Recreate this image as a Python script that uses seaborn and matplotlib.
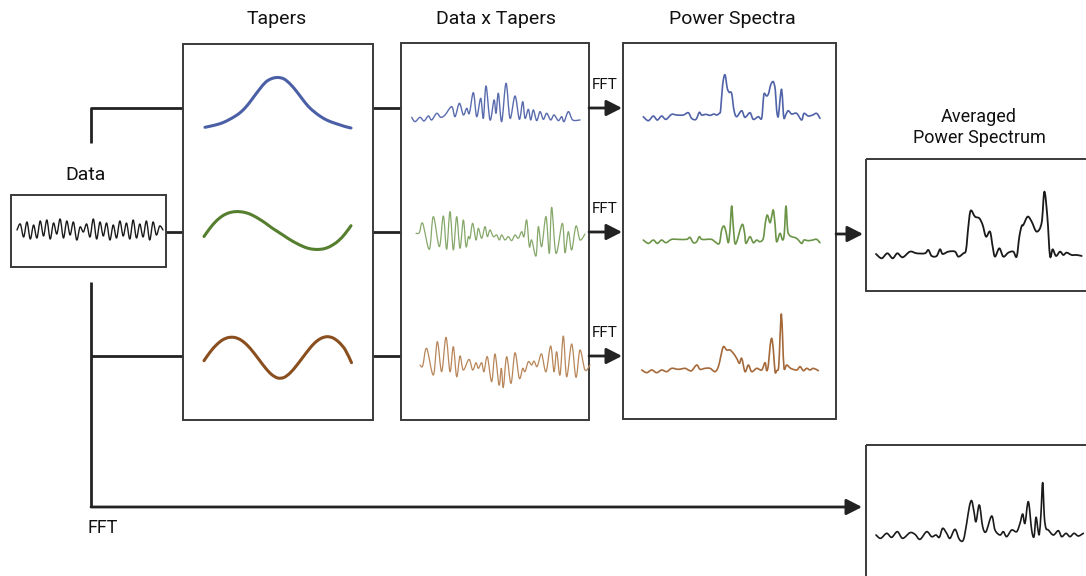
import numpy as np
import matplotlib
matplotlib.use("Agg")
import matplotlib.pyplot as plt
from matplotlib.patches import Rectangle, PathPatch
from matplotlib.path import Path
import seaborn as sns

sns.set_theme(style="white")
plt.rcParams["font.family"] = ["Roboto", "DejaVu Sans"]

# ---------------------------------------------------------------- data
# raw recording (successive peaks / troughs)
data_sig = [0, 6, -7, 8, -9, 5, -8, 9, -6, 10, -9, 7, -4, 11, -8, 9, -5, 8, -10, 3,
            -2, 6, -7, 11, -9, 8, -6, 7, -10, 5, -8, 9, -6, 7, -9, 10, -8, 6, -7, 9,
            -10, 8, -5, 4, 0]

# Slepian-like tapers
taper_1 = [0.7, 2, 3.5, 5.5, 8.5, 12, 16.5, 23, 31, 39, 46, 49.5, 50.5, 49, 44, 37,
           29, 21.5, 16, 11.5, 8, 5.5, 3.5, 1.5, 0]
taper_2 = [-5.5, 3, 10, 15, 18, 19.3, 19.2, 18, 15.5, 12, 8, 3.5, -0.5, -4.5, -8.5,
           -12, -15, -17.3, -18.3, -18.3, -17, -14, -9.5, -3, 5.3]
taper_3 = [-3.2, 5.5, 12.5, 17.5, 20, 20, 17.5, 12.5, 5.5, -2.5, -10.5, -17, -20.5,
           -20, -15.5, -8.5, -0.5, 7.5, 14.5, 19, 20.8, 19.5, 15, 7.5, -5.2]

# data multiplied by each taper
dxt1_t = [35, 45, 60, 72, 85, 95, 110, 122, 135, 155, 165, 178, 190, 200, 208, 220,
          230, 242, 250, 258, 270, 282, 288, 295, 305, 318, 330, 345, 358, 368, 375,
          385, 392, 400, 410, 420, 430, 440, 452, 462, 475, 485, 492, 505, 518, 540]
dxt1_v = [3, -10, 3, -8, 7, -5, 15, 3, 10, 35, 5, 45, 10, 30, 15, 77, 5, 60, 0, 97,
          -5, 55, 15, 75, -10, 105, 0, 67, -3, 50, 0, 27, -5, 25, -7, 20, -3, 15, -5,
          10, -7, 5, -10, 20, -5, -5]

dxt2_t = [48, 58, 68, 88, 100, 118, 130, 140, 150, 160, 170, 180, 190, 198, 205, 210,
          218, 228, 235, 245, 255, 262, 270, 280, 290, 298, 305, 315, 325, 335, 345,
          355, 365, 372, 380, 388, 395, 408, 415, 425, 438, 448, 455, 468, 487, 495,
          505, 515, 528, 540, 555]
dxt2_v = [0, 2, 30, -48, 50, -40, 52, -48, 65, -50, 50, -45, 40, -40, -10, -15, 30,
          -20, 15, -15, 20, -10, 10, -10, -5, -20, -5, -20, -10, -22, -5, -15, 5, -10,
          40, -40, -20, -68, 20, -40, 50, -60, 78, -60, 30, -58, 5, -50, 22, -20, -2]

dxt3_t = [60, 68, 80, 100, 112, 125, 138, 150, 160, 170, 180, 190, 207, 218, 228, 235,
          245, 252, 262, 275, 285, 297, 304, 310, 320, 333, 345, 358, 368, 375, 385,
          395, 402, 410, 415, 425, 438, 452, 462, 470, 480, 490, 500, 515, 528, 540,
          555, 570]
dxt3_v = [-10, -13, 40, -40, 60, -30, 73, -30, 45, -45, 17, -25, 7, -25, -3, -20, -3,
          -30, 15, -60, 23, -70, -20, -77, 15, -65, 27, -50, -20, -30, 0, -10, 2, -15,
          -5, 23, -30, 47, -30, 30, -40, 77, -45, 53, -47, 35, -25, -10]

# power spectra of each tapered series
ps1_f = [70, 85, 100, 112, 125, 138, 155, 170, 190, 205, 215, 228, 238, 245, 258, 270,
         282, 290, 298, 302, 308, 315, 322, 328, 335, 342, 350, 365, 375, 390, 400,
         415, 425, 430, 433, 440, 446, 452, 460, 466, 470, 475, 480, 485, 489, 492,
         498, 505, 515, 530, 545, 552, 565, 578, 590, 600]
ps1_p = [0, -12, 2, -10, 2, -8, 7, 5, 5, 12, -5, -8, 13, 5, 7, 4, 8, 5, 10, 20, 95,
         126, 85, 73, 70, 20, 0, 18, -2, 12, -8, 0, -5, 50, 70, 62, 70, 95, 105, 80,
         20, 0, 50, 82, 30, -5, 7, 18, 8, 10, -10, 10, 2, 5, 10, -5]

ps2_f = [70, 85, 100, 112, 125, 138, 155, 175, 200, 210, 220, 230, 238, 245, 260, 275,
         285, 298, 305, 312, 318, 325, 330, 335, 340, 345, 352, 360, 368, 374, 378,
         390, 400, 410, 420, 430, 436, 442, 450, 455, 460, 465, 470, 480, 488, 493,
         498, 503, 508, 515, 530, 545, 552, 565, 578, 590, 600]
ps2_p = [2, -8, 2, -8, 2, -6, 4, 4, 4, 10, -6, -3, 12, 4, 4, 4, -3, -8, 32, 44, 27,
         -6, 32, 104, 42, -8, 2, 32, 49, 22, -8, 12, -6, 2, -3, 7, 52, 77, 54, 72, 92,
         52, -3, 22, 2, 22, 104, 32, 17, 12, 7, -8, 2, 0, 2, 4, -6]

ps3_f = [65, 80, 95, 110, 125, 140, 155, 175, 195, 205, 215, 230, 240, 255, 270, 285,
         295, 302, 310, 320, 330, 340, 350, 358, 365, 375, 385, 395, 410, 425, 435,
         440, 445, 450, 455, 460, 465, 470, 476, 480, 484, 488, 492, 500, 512, 530,
         540, 550, 560, 570, 580, 595]
ps3_p = [0, -8, 0, -8, 0, -5, 5, 2, 5, 0, -2, 15, 2, 5, 5, -5, 10, 40, 70, 60, 60, 50,
         35, 20, 35, -5, 15, -5, 5, 0, 22, -2, 15, 70, 95, 60, -5, -2, 10, 100, 168,
         90, 5, 15, 5, 0, 10, -2, 5, 0, 5, -2]

# multitaper average
avg_f = [48, 65, 82, 98, 112, 128, 150, 170, 195, 205, 215, 230, 240, 248, 265, 285,
         295, 310, 318, 325, 332, 345, 358, 368, 378, 390, 398, 405, 418, 430, 445,
         460, 470, 478, 485, 490, 503, 515, 530, 545, 553, 562, 570, 578, 588, 600,
         610, 620, 635, 650, 665]
avg_p = [-2, -15, 0, -15, 0, -12, 5, 0, 0, 10, -8, -8, 12, -2, 5, 5, -10, 0, 10, 80,
         128, 110, 105, 85, 50, 65, 20, -10, 15, -10, 2, 5, -10, 50, 82, 85, 110, 95,
         65, 92, 185, 110, -8, 12, -8, 5, -5, 2, -5, -5, -8]

# single-taper (plain FFT) spectrum
fft_f = [48, 62, 80, 95, 112, 128, 150, 165, 180, 200, 215, 228, 238, 248, 260, 270,
         285, 298, 310, 320, 328, 335, 342, 348, 358, 368, 378, 395, 405, 420, 430,
         440, 455, 470, 480, 488, 495, 505, 515, 522, 528, 534, 538, 543, 548, 553,
         558, 565, 580, 595, 605, 618, 630, 642, 655, 670]
fft_p = [0, -10, 5, -7, 10, -10, 7, 2, -13, 10, -5, 0, -7, 20, 5, -10, 17, -13, -15,
         35, 85, 103, 70, 40, 90, 25, 10, 57, 15, 0, 10, -5, 15, 10, 35, 63, 35, 100,
         15, -5, 53, 15, 3, 65, 157, 55, 20, 15, 0, 13, -5, 5, -5, 5, -3, 5]

# ---------------------------------------------------------------- figure
W, H = 1086, 576
fig = plt.figure(figsize=(W / 100, H / 100), dpi=100)
ax = fig.add_axes([0, 0, 1, 1])
ax.set_xlim(0, W)
ax.set_ylim(H, 0)
ax.axis("off")

BLUE, GREEN, BROWN = "#4b5fa6", "#557f2f", "#8a4f1f"
BLUE_L, GREEN_L, BROWN_L = "#5a6cae", "#86a86a", "#b98659"
BLUE_S, GREEN_S, BROWN_S = "#5062a8", "#6b9447", "#a5693a"
EDGE = "#3a3a3a"
LINE = "#222222"


def smooth_path(x, y, tension=0.5):
    """Cubic Bezier path passing through every (x, y) sample (Catmull-Rom)."""
    pts = np.column_stack([x, y])
    verts = [pts[0]]
    codes = [Path.MOVETO]
    for i in range(len(pts) - 1):
        p0 = pts[max(i - 1, 0)]
        p1 = pts[i]
        p2 = pts[i + 1]
        p3 = pts[min(i + 2, len(pts) - 1)]
        c1 = p1 + (p2 - p0) * tension / 3
        c2 = p2 - (p3 - p1) * tension / 3
        verts += [c1, c2, p2]
        codes += [Path.CURVE4] * 3
    return Path(verts, codes)


def wave(t, v, x_left, baseline, sx, sy, color, lw):
    """Draw a trace in its own axes, sized so one unit maps to sx/sy pixels."""
    t = np.asarray(t, float)
    v = np.asarray(v, float)
    width = (t.max() - t.min()) * sx
    top = baseline - v.max() * sy
    bottom = baseline - v.min() * sy
    a = fig.add_axes([x_left / W, 1 - bottom / H, width / W, (bottom - top) / H])
    sns.lineplot(x=t, y=v, ax=a, color=color, linewidth=lw, estimator=None,
                 sort=False, legend=False)
    # render the same samples as a smooth curve instead of straight segments
    for ln in list(a.lines):
        xd, yd = ln.get_xdata(), ln.get_ydata()
        ln.set_visible(False)
        a.add_patch(PathPatch(smooth_path(xd, yd), fill=False, edgecolor=color,
                              linewidth=lw, capstyle="round", joinstyle="round",
                              clip_on=False))
    a.set_xlim(t.min(), t.max())
    a.set_ylim(v.min(), v.max())
    a.axis("off")
    a.patch.set_alpha(0)


def box(x0, y0, x1, y1):
    ax.add_patch(Rectangle((x0, y0), x1 - x0, y1 - y0, fill=False,
                           edgecolor=EDGE, linewidth=1.4, zorder=2))


def arrow(x0, x1, y):
    ax.annotate("", xy=(x1, y), xytext=(x0, y),
                arrowprops=dict(arrowstyle="-|>,head_length=0.47,head_width=0.24",
                                color=LINE, lw=2, mutation_scale=20,
                                shrinkA=0, shrinkB=0))


def seg(xs, ys):
    ax.plot(xs, ys, color=LINE, lw=2, solid_capstyle="butt", zorder=1)


# boxes
box(11, 195, 166, 267)
box(183, 44, 373, 420)
box(401, 43, 589, 420)
box(623, 43, 836, 419)
box(866, 159, 1092, 291)
box(866, 445, 1092, 590)

# titles
tkw = dict(ha="center", va="center", fontsize=14, color="#111111")
ax.text(277, 19, "Tapers", **tkw)
ax.text(496, 19, "Data x Tapers", **tkw)
ax.text(732, 19, "Power Spectra", **tkw)
ax.text(86, 175, "Data", **tkw)
ax.text(979, 117, "Averaged", ha="center", va="center", fontsize=13, color="#111111")
ax.text(979, 138, "Power Spectrum", ha="center", va="center", fontsize=13,
        color="#111111")

# connectors from the data to the tapers
rows = [108, 232, 356]
seg([91, 91, 183], [143, rows[0], rows[0]])
seg([166, 183], [rows[1], rows[1]])
seg([91, 91], [282, 507])
seg([91, 183], [rows[2], rows[2]])
for y in rows:
    seg([373, 401], [y, y])
    arrow(589, 622, y)
    ax.text(605, y - 23, "FFT", ha="center", va="center", fontsize=11, color="#111111")
arrow(836, 863, 234)
arrow(91, 862, 507)
ax.text(103, 528, "FFT", ha="center", va="center", fontsize=13, color="#111111")

# traces
wave(np.arange(len(data_sig)), data_sig, 17, 230, 146 / (len(data_sig) - 1), 1.0,
     "#1a1a1a", 1.0)

n = len(taper_1)
wave(np.arange(n), taper_1, 205, 128, 146 / (n - 1), 1.0, BLUE, 2.2)
wave(np.arange(n), taper_2, 204, 231, 147 / (n - 1), 1.0, GREEN, 2.2)
wave(np.arange(n), taper_3, 204, 357.5, 147.5 / (n - 1), 1.0, BROWN, 2.2)

s = 1 / 3
wave(dxt1_t, dxt1_v, 411.7, 118.3, s, s, BLUE_L, 1.0)
wave(dxt2_t, dxt2_v, 416, 233.3, s, s, GREEN_L, 0.9)
wave(dxt3_t, dxt3_v, 420, 361.7, s, s, BROWN_L, 0.9)

wave(ps1_f, ps1_p, 643.3, 116.7, s, s, BLUE_S, 1.2)
wave(ps2_f, ps2_p, 643.3, 240.7, s, s, GREEN_S, 1.2)
wave(ps3_f, ps3_p, 641.7, 370, s, s, BROWN_S, 1.2)

wave(avg_f, avg_p, 876, 253.3, s, s, "#1a1a1a", 1.3)
wave(fft_f, fft_p, 876, 535, s, s, "#1a1a1a", 1.2)

fig.savefig("out.png", dpi=100)
